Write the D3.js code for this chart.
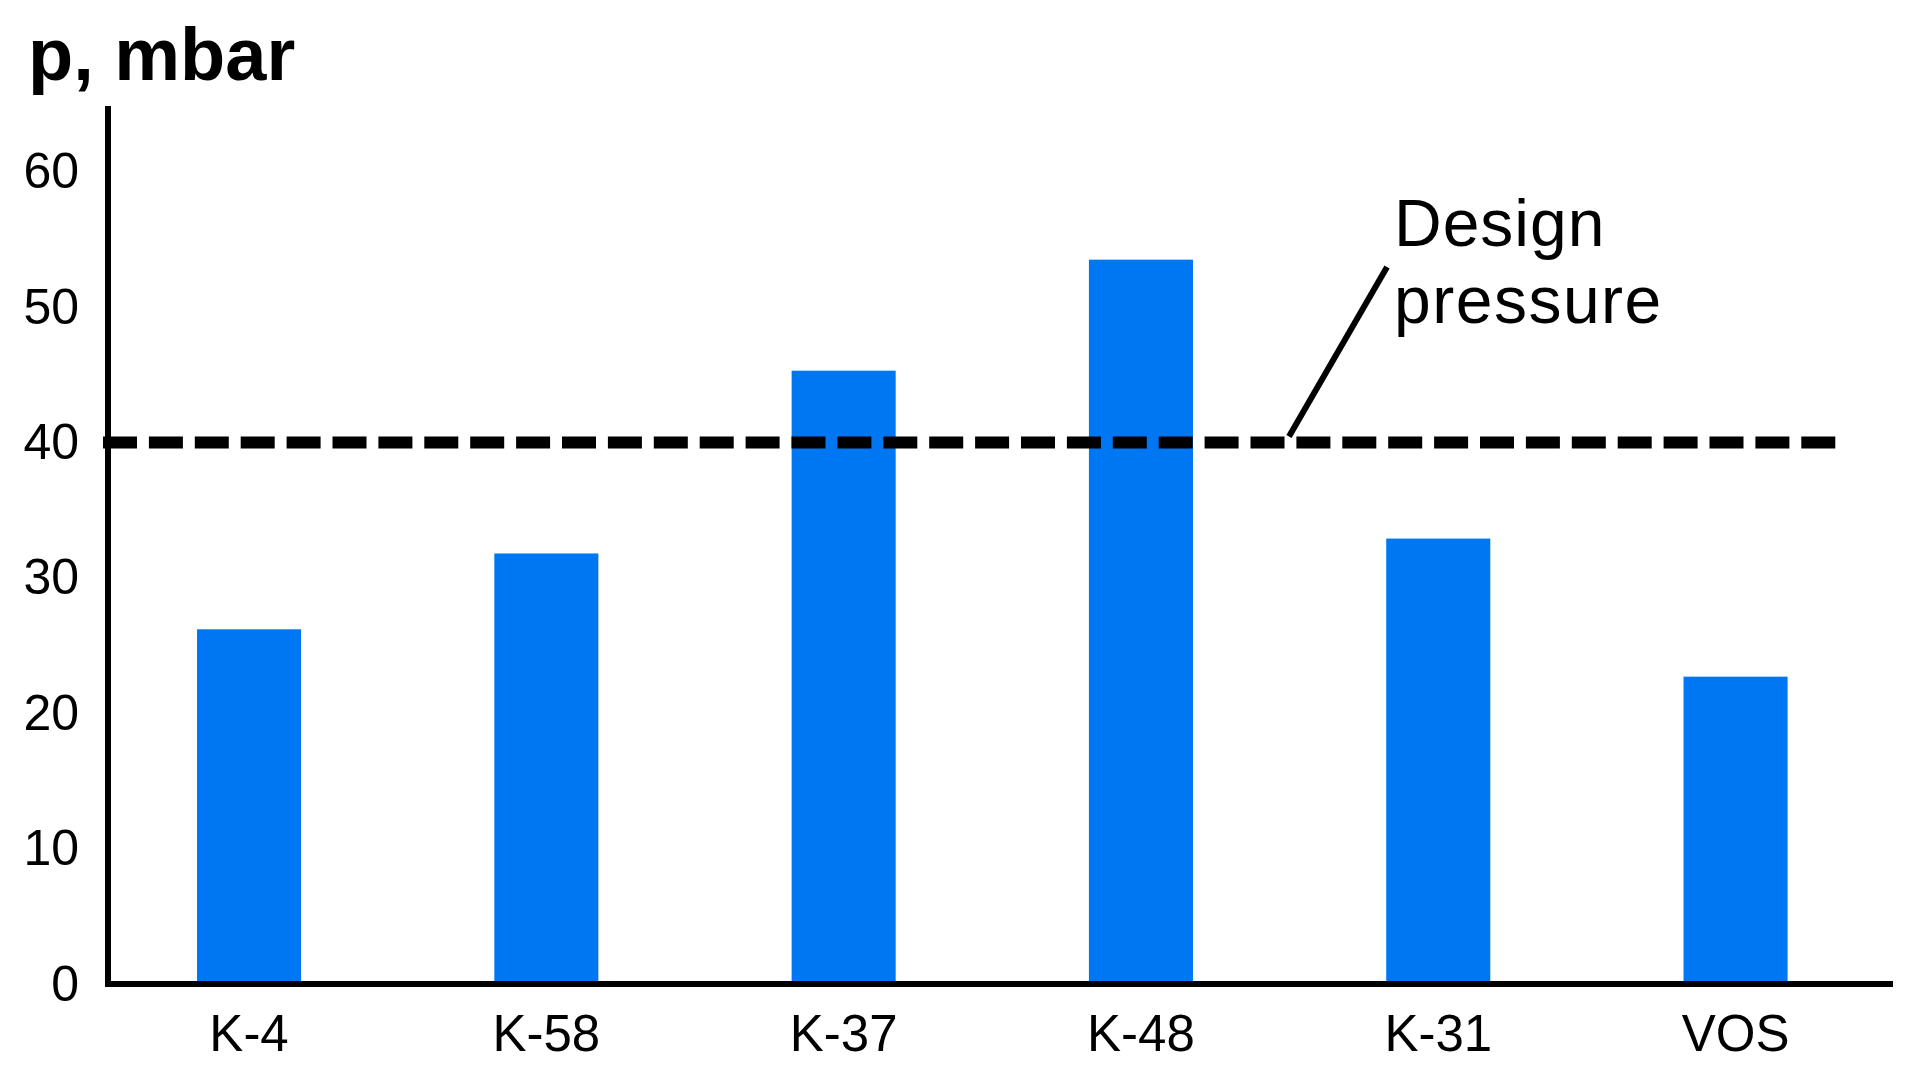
<!DOCTYPE html>
<html>
<head>
<meta charset="utf-8">
<script src="https://cdn.jsdelivr.net/npm/d3@7"></script>
<style>
  html, body { margin: 0; padding: 0; background: #fff; }
  svg { display: block; }
  text { font-family: "Liberation Sans", Arial, Helvetica, sans-serif; fill: #000; }
</style>
</head>
<body>
<svg id="chart" width="1917" height="1077"></svg>
<script>
// ---- data ----
const categories = ["K-4", "K-58", "K-37", "K-48", "K-31", "VOS"];
const pressure = [26.2, 31.8, 45.3, 53.5, 32.9, 22.7];
const yTicks = [0, 10, 20, 30, 40, 50, 60];
const designPressure = 40;
const yLabel = "p, mbar";
const annotationLines = ["Design", "pressure"];

// ---- layout ----
const svg = d3.select("#chart");
const axisX = 108, baseY = 984, topY = 106, axisRight = 1893;

const y = d3.scaleLinear().domain([0, 64.85]).range([baseY, topY]);
const x = d3.scaleBand()
  .domain(categories)
  .range([100.4, 1884.2])
  .paddingInner(0.65)
  .paddingOuter(0.325);

// bars
svg.append("g").selectAll("rect")
  .data(categories)
  .join("rect")
  .attr("x", d => x(d))
  .attr("width", x.bandwidth())
  .attr("y", (d, i) => y(pressure[i]))
  .attr("height", (d, i) => y(0) - y(pressure[i]))
  .attr("fill", "#0077F2");

// y axis
const yAxis = svg.append("g")
  .attr("transform", `translate(${axisX},0)`)
  .call(d3.axisLeft(y).tickValues(yTicks).tickSize(0).tickPadding(29).tickFormat(d3.format("d")));
yAxis.select(".domain").remove();
yAxis.selectAll("text")
  .style("font-size", "50px")
  .style("font-family", "'Liberation Sans', Arial, sans-serif")
  .attr("fill", "#000");

// x axis
const xAxis = svg.append("g")
  .attr("transform", `translate(0,${baseY})`)
  .call(d3.axisBottom(x).tickSize(0).tickPadding(31));
xAxis.select(".domain").remove();
xAxis.selectAll("text")
  .style("font-size", "51px")
  .style("font-family", "'Liberation Sans', Arial, sans-serif")
  .attr("fill", "#000");

// axis lines
svg.append("line")
  .attr("x1", axisX).attr("x2", axisX)
  .attr("y1", topY).attr("y2", baseY + 3)
  .attr("stroke", "#000").attr("stroke-width", 6);
svg.append("line")
  .attr("x1", axisX - 3).attr("x2", axisRight)
  .attr("y1", baseY).attr("y2", baseY)
  .attr("stroke", "#000").attr("stroke-width", 6);

// design pressure dashed line
const dy = y(designPressure);
svg.append("line")
  .attr("x1", 103).attr("x2", 1837)
  .attr("y1", dy).attr("y2", dy)
  .attr("stroke", "#000").attr("stroke-width", 12)
  .attr("stroke-dasharray", "34 11.9");

// leader line
svg.append("line")
  .attr("x1", 1289).attr("y1", dy - 6)
  .attr("x2", 1387).attr("y2", 267)
  .attr("stroke", "#000").attr("stroke-width", 6);

// annotation text
svg.append("text")
  .attr("x", 1394).attr("y", 246)
  .style("font-size", "66px")
  .style("letter-spacing", "1px")
  .text(annotationLines[0]);
svg.append("text")
  .attr("x", 1394).attr("y", 323)
  .style("font-size", "66px")
  .style("letter-spacing", "1.5px")
  .text(annotationLines[1]);

// y label
svg.append("text")
  .attr("x", 28).attr("y", 80)
  .style("font-size", "74px")
  .style("font-weight", "bold")
  .text(yLabel);
</script>
</body>
</html>
